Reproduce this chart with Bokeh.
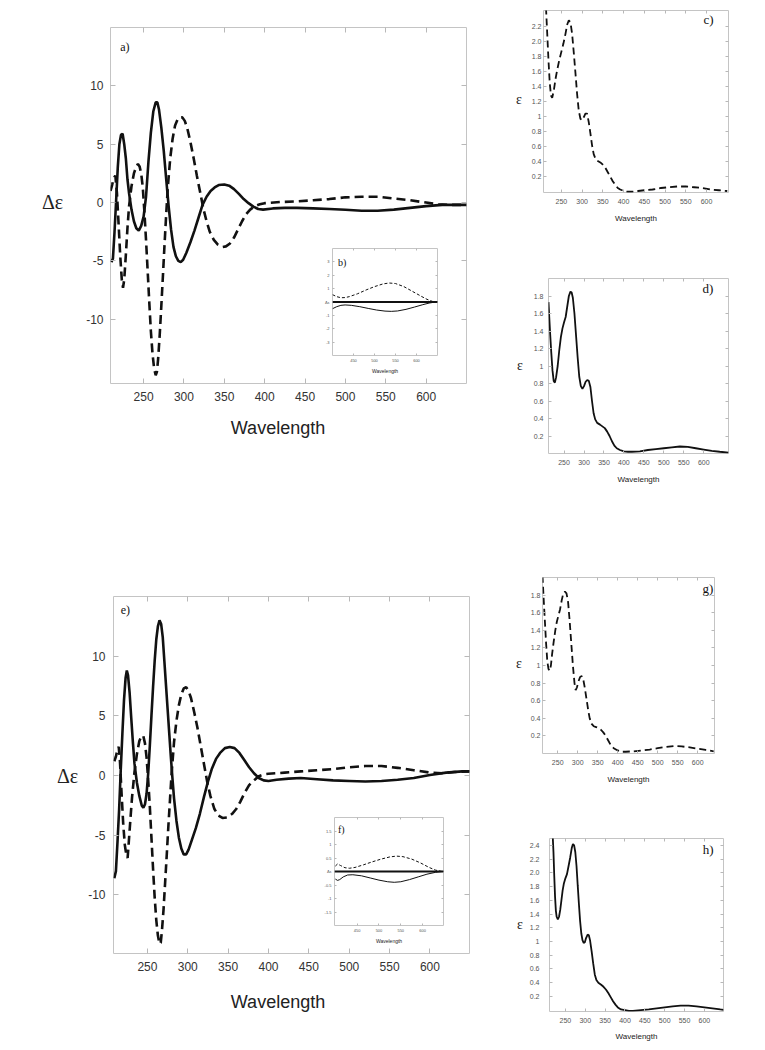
from bokeh.plotting import figure
from bokeh.models import Range1d, FixedTicker, Label, Span, GridBox, Div, LinearAxis
from bokeh.embed import file_html
from bokeh.resources import INLINE

# ---------------- data ----------------
# a) CD spectrum (large, top)
a_solid_wl = [210, 212, 214, 216, 218, 220, 222, 224, 226, 228, 230, 232, 235, 238, 241, 244, 247, 250, 253, 256,
              259, 262, 265, 267, 269, 272, 275, 278, 281, 284, 287, 290, 293, 296, 299, 303, 308, 313, 318, 323,
              328, 333, 338, 343, 350, 356, 362, 368, 374, 380, 386, 392, 398, 410, 425, 440, 460, 480, 500, 520,
              540, 560, 580, 600, 620, 640, 650]
a_solid_de = [-5.1, -4.8, -2.5, 0.2, 3.0, 5.0, 5.8, 5.9, 5.0, 3.8, 2.0, 0.8, -0.6, -1.6, -2.2, -2.4, -2.0, -1.2, 0.5, 3.5,
              6.0, 7.8, 8.6, 8.6, 8.0, 6.4, 4.4, 2.0, -0.3, -2.3, -3.8, -4.6, -5.0, -5.1, -4.9, -4.3, -3.4, -2.4, -1.3, -0.2,
              0.5, 1.0, 1.3, 1.5, 1.55, 1.45, 1.15, 0.75, 0.3, -0.05, -0.35, -0.55, -0.6, -0.5, -0.45, -0.45, -0.5, -0.55, -0.62, -0.7,
              -0.7, -0.6, -0.45, -0.3, -0.2, -0.2, -0.2]
a_dash_wl = [209, 211, 213, 215, 217, 219, 221, 223, 224.5, 226, 228, 230, 232, 235, 238, 241, 243, 245, 247, 249,
             251, 253, 255, 257, 259, 261, 263, 265, 266.5, 268, 270, 272, 274, 276, 278, 280, 283, 286, 289, 292,
             295, 298, 301, 304, 308, 312, 316, 320, 324, 328, 332, 337, 342, 348, 352, 357, 362, 367, 372, 377,
             382, 388, 394, 400, 420, 440, 460, 480, 500, 520, 540, 560, 580, 600, 615, 630, 650]
a_dash_de = [1.0, 1.5, 2.1, 2.3, 0.8, -1.8, -4.5, -6.6, -7.3, -6.6, -4.5, -2.2, -0.3, 1.4, 2.5, 3.1, 3.3, 3.1, 2.5, 1.3,
             -0.8, -3.2, -5.8, -8.5, -11.0, -12.9, -14.2, -14.8, -14.5, -13.4, -11.3, -8.8, -6.2, -3.5, -1.0, 1.3, 3.8, 5.5, 6.6, 7.1,
             7.3, 7.3, 7.0, 6.4, 5.2, 3.8, 2.3, 0.9, -0.5, -1.6, -2.5, -3.2, -3.6, -3.8, -3.75, -3.5, -3.0, -2.3, -1.6, -1.0,
             -0.6, -0.3, -0.15, -0.05, 0.05, 0.1, 0.2, 0.3, 0.45, 0.5, 0.5, 0.35, 0.2, 0.0, -0.15, -0.2, -0.2]

# b) inset of a)
b_wl_dash = [400, 410, 420, 430, 440, 460, 480, 500, 520, 535, 550, 570, 590, 610, 625, 640, 650]
b_de_dash = [0.55, 0.4, 0.32, 0.33, 0.4, 0.62, 0.9, 1.15, 1.35, 1.42, 1.38, 1.15, 0.8, 0.45, 0.2, 0.02, -0.02]
b_wl_solid = [400, 410, 420, 430, 445, 465, 485, 505, 525, 540, 555, 575, 595, 615, 630, 645, 650]
b_de_solid = [-0.5, -0.35, -0.25, -0.22, -0.25, -0.35, -0.48, -0.6, -0.68, -0.7, -0.67, -0.55, -0.38, -0.2, -0.08, 0.0, 0.02]

# c) absorption (dashed)
c_wl = [213, 216, 219, 222, 225, 228, 232, 236, 240, 245, 250, 255, 260, 264, 268, 272, 276, 280, 284, 288,
        292, 296, 300, 304, 308, 312, 316, 320, 324, 328, 333, 338, 344, 350, 356, 362, 368, 374, 380, 386,
        392, 400, 410, 420, 435, 450, 470, 490, 510, 530, 550, 570, 590, 610, 630, 650]
c_eps = [2.45, 2.1, 1.75, 1.45, 1.28, 1.25, 1.35, 1.5, 1.62, 1.75, 1.86, 1.97, 2.1, 2.22, 2.28, 2.25, 2.1, 1.85, 1.58, 1.3,
         1.08, 0.97, 0.95, 0.99, 1.04, 1.04, 0.93, 0.78, 0.62, 0.5, 0.43, 0.41, 0.39, 0.36, 0.32, 0.26, 0.2, 0.14, 0.09, 0.05,
         0.03, 0.01, 0.0, 0.0, 0.01, 0.02, 0.03, 0.05, 0.06, 0.07, 0.07, 0.06, 0.05, 0.03, 0.02, 0.01]

# d) absorption (solid)
d_wl = [211, 213, 215, 218, 221, 224, 227, 230, 234, 238, 242, 246, 250, 254, 258, 262, 266, 269, 272, 276,
        280, 284, 288, 292, 296, 300, 304, 308, 312, 316, 320, 324, 328, 333, 340, 346, 352, 358, 364, 370,
        376, 382, 390, 400, 410, 420, 440, 460, 480, 500, 520, 540, 560, 580, 600, 620, 640, 662]
d_eps = [1.73, 1.55, 1.38, 1.15, 0.95, 0.83, 0.81, 0.87, 1.0, 1.18, 1.33, 1.43, 1.5, 1.56, 1.68, 1.8, 1.85, 1.84, 1.78, 1.6,
         1.35, 1.1, 0.88, 0.77, 0.74, 0.77, 0.82, 0.84, 0.83, 0.76, 0.6, 0.46, 0.39, 0.35, 0.33, 0.31, 0.29, 0.25, 0.2, 0.14,
         0.09, 0.06, 0.04, 0.025, 0.02, 0.02, 0.025, 0.04, 0.05, 0.06, 0.07, 0.08, 0.075, 0.06, 0.045, 0.03, 0.02, 0.01]

# e) CD spectrum (large, bottom)
e_solid_wl = [209, 211, 213, 215, 217, 219, 221, 223, 224.5, 226, 228, 230, 232, 234, 237, 240, 243, 245, 247, 249,
              251, 253, 255, 257, 259, 261, 263, 265, 267, 269, 271, 273, 275, 277, 279, 281, 283, 286, 289, 292,
              295, 298, 301, 305, 310, 315, 320, 325, 330, 335, 340, 346, 352, 358, 364, 370, 376, 382, 388, 394,
              400, 410, 425, 440, 460, 480, 500, 520, 540, 560, 580, 600, 620, 640, 649]
e_solid_de = [-8.6, -8.0, -5.5, -2.8, 0.5, 3.5, 6.3, 8.2, 8.8, 8.4, 6.9, 4.8, 2.8, 1.0, -0.6, -1.7, -2.5, -2.7, -2.4, -1.5,
              0.2, 2.5, 5.0, 7.4, 9.6, 11.4, 12.5, 13.0, 12.7, 11.6, 9.6, 7.6, 5.6, 3.6, 1.6, -0.2, -1.9, -3.8, -5.2, -6.1,
              -6.6, -6.6, -6.2, -5.4, -4.4, -3.2, -1.8, -0.5, 0.6, 1.4, 1.9, 2.3, 2.4, 2.3, 1.9, 1.3, 0.7, 0.2, -0.2, -0.4,
              -0.45, -0.35, -0.25, -0.2, -0.3, -0.4, -0.45, -0.5, -0.45, -0.35, -0.2, 0.05, 0.25, 0.35, 0.35]
e_dash_wl = [209, 211, 213, 214.5, 216, 218, 220, 222, 224, 225.5, 227, 229, 231, 234, 237, 240, 243, 245, 247, 249,
             251, 253, 255, 257, 259, 261, 263, 265, 266.5, 268, 270, 272, 274, 276, 278, 280, 283, 286, 289, 292,
             295, 298, 301, 304, 308, 312, 316, 320, 324, 328, 333, 338, 343, 349, 355, 360, 365, 370, 376, 382,
             388, 394, 400, 420, 440, 460, 480, 500, 520, 540, 560, 580, 600, 615, 630, 649]
e_dash_de = [1.2, 1.6, 2.2, 2.4, 1.2, -1.5, -4.0, -5.8, -6.7, -6.9, -5.5, -3.6, -1.8, 0.3, 1.8, 2.9, 3.35, 3.3, 2.7, 1.5,
             -0.4, -2.6, -5.2, -7.8, -10.2, -12.1, -13.4, -14.1, -14.0, -13.0, -11.2, -8.9, -6.6, -4.2, -2.0, 0.2, 2.8, 4.6, 5.9, 6.8,
             7.3, 7.4, 7.1, 6.5, 5.3, 4.0, 2.5, 1.0, -0.5, -1.7, -2.8, -3.35, -3.55, -3.5, -3.2, -2.8, -2.2, -1.5, -0.8, -0.4,
             -0.05, 0.1, 0.15, 0.25, 0.35, 0.45, 0.55, 0.7, 0.8, 0.8, 0.65, 0.45, 0.25, 0.2, 0.3, 0.35]

# f) inset of e)
f_wl_dash = [400, 405, 412, 422, 432, 445, 465, 485, 505, 525, 540, 555, 575, 595, 615, 630, 645, 650]
f_de_dash = [0.2, 0.28, 0.22, 0.14, 0.12, 0.15, 0.25, 0.36, 0.46, 0.54, 0.57, 0.55, 0.46, 0.32, 0.15, 0.05, 0.0, -0.01]
f_wl_solid = [400, 405, 410, 418, 428, 440, 460, 480, 500, 520, 535, 550, 570, 590, 610, 630, 645, 650]
f_de_solid = [-0.28, -0.33, -0.3, -0.2, -0.13, -0.12, -0.16, -0.24, -0.32, -0.38, -0.4, -0.38, -0.3, -0.2, -0.1, -0.03, 0.0, 0.01]

# g) absorption (dashed)
g_wl = [212, 215, 218, 221, 224, 227, 230, 233, 236, 240, 244, 248, 252, 256, 260, 264, 268, 272, 276, 280,
        284, 288, 292, 295, 298, 302, 306, 310, 314, 318, 322, 326, 330, 334, 340, 346, 352, 358, 364, 370,
        376, 382, 390, 400, 410, 420, 440, 460, 480, 500, 520, 540, 560, 580, 600, 620, 640]
g_eps = [2.02, 1.75, 1.5, 1.25, 1.05, 0.96, 0.94, 1.0, 1.13, 1.27, 1.4, 1.5, 1.57, 1.64, 1.74, 1.82, 1.84, 1.82, 1.72, 1.5,
         1.25, 1.0, 0.8, 0.72, 0.75, 0.82, 0.87, 0.88, 0.84, 0.74, 0.62, 0.5, 0.4, 0.34, 0.31, 0.3, 0.29, 0.27, 0.24, 0.2,
         0.15, 0.1, 0.06, 0.035, 0.02, 0.02, 0.025, 0.035, 0.045, 0.06, 0.075, 0.085, 0.08, 0.07, 0.055, 0.04, 0.025]

# h) absorption (solid)
h_wl = [218, 220, 222, 224, 226, 228, 231, 234, 237, 240, 243, 246, 250, 254, 258, 262, 266, 269, 272, 275,
        278, 281, 284, 287, 290, 293, 296, 299, 302, 306, 309, 312, 316, 320, 324, 328, 333, 340, 346, 352,
        358, 364, 370, 376, 382, 390, 400, 410, 420, 440, 460, 480, 500, 520, 540, 560, 580, 600, 620, 640, 648]
h_eps = [2.55, 2.3, 1.95, 1.65, 1.45, 1.36, 1.32, 1.36, 1.46, 1.6, 1.74, 1.84, 1.92, 1.98, 2.1, 2.22, 2.36, 2.42, 2.4, 2.3,
         2.1, 1.82, 1.55, 1.3, 1.12, 1.02, 0.98, 0.99, 1.05, 1.1, 1.09, 1.02, 0.86, 0.68, 0.52, 0.44, 0.4, 0.37, 0.34, 0.3,
         0.25, 0.19, 0.13, 0.08, 0.04, 0.01, 0.0, -0.01, -0.01, 0.0, 0.01, 0.025, 0.04, 0.055, 0.065, 0.065, 0.055, 0.04, 0.025, 0.01, 0.005]

# tick values
big_xticks = [250, 300, 350, 400, 450, 500, 550, 600]
big_yticks = [-10, -5, 0, 5, 10]
small_xticks = [250, 300, 350, 400, 450, 500, 550, 600]
c_yticks = [0.2, 0.4, 0.6, 0.8, 1, 1.2, 1.4, 1.6, 1.8, 2.0, 2.2]
d_yticks = [0.2, 0.4, 0.6, 0.8, 1, 1.2, 1.4, 1.6, 1.8]
g_yticks = [0.2, 0.4, 0.6, 0.8, 1, 1.2, 1.4, 1.6, 1.8]
h_yticks = [0.2, 0.4, 0.6, 0.8, 1, 1.2, 1.4, 1.6, 1.8, 2.0, 2.2, 2.4]
inset_xticks = [450, 500, 550, 600]
b_yticks = [-3, -2, -1, 0, 1, 2, 3]
f_yticks = [-1.5, -1, -0.5, 0, 0.5, 1, 1.5]

# ---------------- styling helpers ----------------
SANS = "Liberation Sans"
SERIF = "Liberation Serif"
INK = "#111111"
TICK = "#b8b8b8"
# Bokeh aligns the frames of all plots sharing a grid cell, so every panel
# uses the same border sizes; the page position comes from the CSS margin.
BL, BT, BR, BB = 30, 10, 6, 34


def panel(xr, yr, frame):
    fl, ft, fw, fh = frame
    p = figure(x_range=Range1d(*xr), y_range=Range1d(*yr), frame_width=fw, frame_height=fh,
               min_border_left=BL, min_border_top=BT, min_border_right=BR, min_border_bottom=BB,
               output_backend="svg", toolbar_location=None, tools="", title=None)
    p.margin = (ft - BT, 0, 0, fl - BL)
    p.border_fill_color = None
    p.background_fill_color = "white"
    p.outline_line_color = "#c4c4c4"
    p.outline_line_width = 1
    p.xgrid.visible = False
    p.ygrid.visible = False
    return p


def axes(p, xticks, yticks, tick_len, font_px, lab_color, xstand, ystand,
         xlabel=None, xlabel_px=8, xlabel_stand=5, yover=None):
    xa, ya = p.xaxis[0], p.yaxis[0]
    for ax, ticks, st in ((xa, xticks, xstand), (ya, yticks, ystand)):
        ax.ticker = FixedTicker(ticks=ticks)
        ax.axis_line_color = None
        ax.major_tick_in = tick_len
        ax.major_tick_out = 0
        ax.major_tick_line_color = TICK
        ax.minor_tick_line_color = None
        ax.major_label_text_font = SANS
        ax.major_label_text_font_size = f"{font_px}px"
        ax.major_label_text_color = lab_color
        ax.major_label_standoff = st
    if xlabel:
        xa.axis_label = xlabel
        xa.axis_label_text_font = SANS
        xa.axis_label_text_font_style = "normal"
        xa.axis_label_text_font_size = f"{xlabel_px}px"
        xa.axis_label_text_color = "#222222"
        xa.axis_label_standoff = xlabel_stand
    if yover:
        ya.major_label_overrides = yover
    # mirrored tick marks on the top and right edges of the frame
    for loc, ticks in (("above", xticks), ("right", yticks)):
        m = LinearAxis(ticker=FixedTicker(ticks=ticks), axis_line_color=None,
                       major_tick_in=tick_len, major_tick_out=0, major_tick_line_color=TICK,
                       minor_tick_line_color=None, major_label_text_font_size="0px",
                       major_label_text_color=None, major_label_standoff=0)
        p.add_layout(m, loc)


def tag(p, x, y, text, px, align="left"):
    p.add_layout(Label(x=x, y=y, text=text, text_font=SERIF, text_font_size=f"{px}px",
                       text_color=INK, text_baseline="middle", text_align=align))


def textbox(text, left, top, px, font, width=40, align="left"):
    return Div(text=text, width=width, height=px + 6, margin=(top, 0, 0, left),
               styles={"font-family": font, "font-size": f"{px}px", "line-height": "1",
                       "color": "#222222", "text-align": align})


minus_big = {-10: "-10", -5: "-5"}

# ---------------- a) ----------------
pa = panel((209, 650), (-15.5, 15), (110, 27, 356, 356))
axes(pa, big_xticks, big_yticks, 5, 12, "#333333", 8, 7, yover=minus_big)
pa.line(a_solid_wl, a_solid_de, line_color=INK, line_width=2.6)
pa.line(a_dash_wl, a_dash_de, line_color=INK, line_width=2.6, line_dash="9 5")
tag(pa, 221, 13.3, "a)", 12)

# ---------------- e) ----------------
pe = panel((208, 649), (-14.9, 15), (113, 596, 356, 357))
axes(pe, big_xticks, big_yticks, 5, 12, "#333333", 8, 8, yover=minus_big)
pe.line(e_solid_wl, e_solid_de, line_color=INK, line_width=2.6)
pe.line(e_dash_wl, e_dash_de, line_color=INK, line_width=2.6, line_dash="9 5")
tag(pe, 217, 13.9, "e)", 12)

# ---------------- b) inset ----------------
pb = panel((400, 650), (-4, 4), (332, 248, 105, 107))
axes(pb, inset_xticks, b_yticks, 2, 4, "#555555", 3, 3, "Wavelength", 5, 3,
     yover={0: "Δε", -1: "-1", -2: "-2", -3: "-3"})
pb.add_layout(Span(location=0, dimension="width", line_color=INK, line_width=1.8))
pb.line(b_wl_dash, b_de_dash, line_color=INK, line_width=1, line_dash="3 2")
pb.line(b_wl_solid, b_de_solid, line_color=INK, line_width=1)
tag(pb, 413, 2.95, "b)", 10)

# ---------------- f) inset ----------------
pf = panel((398, 648), (-2, 2), (334, 817, 109, 108))
axes(pf, inset_xticks, f_yticks, 2, 4, "#555555", 3, 3, "Wavelength", 5, 3,
     yover={0: "Δε", 1: "1", -1: "-1", -0.5: "-0.5", -1.5: "-1.5"})
pf.add_layout(Span(location=0, dimension="width", line_color=INK, line_width=1.8))
pf.line(f_wl_dash, f_de_dash, line_color=INK, line_width=1, line_dash="3 2")
pf.line(f_wl_solid, f_de_solid, line_color=INK, line_width=1)
tag(pf, 406, 1.55, "f)", 10)

# ---------------- c) ----------------
pc = panel((207, 653), (-0.01, 2.41), (543, 10, 185, 182))
axes(pc, small_xticks, c_yticks, 3, 7, "#555555", 6, 2, "Wavelength", 8, 7, yover={2: "2.0"})
pc.line(c_wl, c_eps, line_color=INK, line_width=1.8, line_dash="7 4")
tag(pc, 617, 2.29, "c)", 13, "right")

# ---------------- d) ----------------
pd_ = panel((211, 662), (0, 2.0), (548, 278, 180, 175))
axes(pd_, small_xticks, d_yticks, 3, 7, "#555555", 6, 5, "Wavelength", 8, 7)
pd_.line(d_wl, d_eps, line_color=INK, line_width=1.8)
tag(pd_, 624, 1.89, "d)", 13, "right")

# ---------------- g) ----------------
pg = panel((212, 642), (0, 2.0), (542, 577, 172, 176))
axes(pg, small_xticks, g_yticks, 3, 7, "#555555", 6, 2, "Wavelength", 8, 7)
pg.line(g_wl, g_eps, line_color=INK, line_width=1.8, line_dash="7 4")
tag(pg, 639, 1.88, "g)", 13, "right")

# ---------------- h) ----------------
ph = panel((210, 648), (-0.02, 2.5), (549, 838, 174, 173))
axes(ph, small_xticks, h_yticks, 3, 7, "#555555", 6, 10, "Wavelength", 8, 6, yover={2: "2.0"})
ph.line(h_wl, h_eps, line_color=INK, line_width=1.8)
tag(ph, 623, 2.34, "h)", 13, "right")

# axis titles of the big panels and the y titles of the small ones
texts = [textbox("Δε", 42, 192, 20, SERIF), textbox("Δε", 57, 766, 20, SERIF),
         textbox("Wavelength", 218, 419, 18, SANS, width=120, align="center"),
         textbox("Wavelength", 218, 993, 18, SANS, width=120, align="center"),
         textbox("ε", 516, 93, 14, SERIF), textbox("ε", 517, 359, 14, SERIF),
         textbox("ε", 516, 657, 14, SERIF), textbox("ε", 517, 918, 14, SERIF)]

figs = [pa, pe, pb, pf, pc, pd_, pg, ph] + texts
layout = GridBox(children=[(f, 0, 0) for f in figs])

open("out.html", "w").write(file_html(layout, INLINE))
